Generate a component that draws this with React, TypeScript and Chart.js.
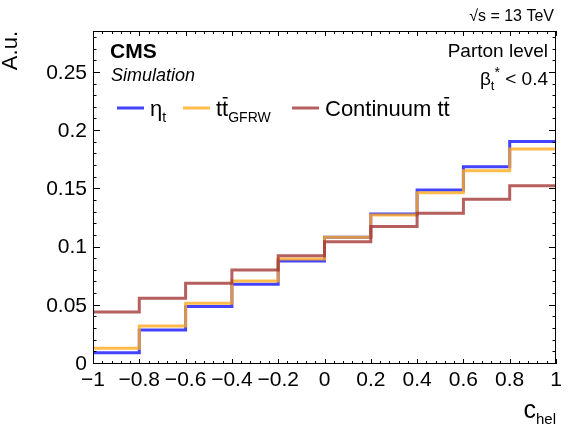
import { useEffect, useRef } from 'react';
import { Chart, registerables } from 'chart.js';

Chart.register(...registerables);

// ---- data ----
const binEdges = [-1, -0.8, -0.6, -0.4, -0.2, 0, 0.2, 0.4, 0.6, 0.8, 1];
const etaT = [0.0097, 0.0292, 0.0493, 0.0685, 0.0885, 0.1088, 0.1289, 0.1495, 0.1695, 0.191];
const ttGFRW = [0.0135, 0.0327, 0.0521, 0.0713, 0.0902, 0.1088, 0.128, 0.147, 0.166, 0.1847];
const continuum = [0.0447, 0.0564, 0.0693, 0.0808, 0.093, 0.105, 0.118, 0.1295, 0.1415, 0.153];
const xTickValues = [-1, -0.8, -0.6, -0.4, -0.2, 0, 0.2, 0.4, 0.6, 0.8, 1];
const yTickValues = [0, 0.05, 0.1, 0.15, 0.2, 0.25];

const FONT = "'Liberation Sans', Arial, Helvetica, sans-serif";
const BLUE = 'rgba(20,20,255,0.8)';
const ORANGE = 'rgba(255,170,30,0.8)';
const RED = 'rgba(160,50,50,0.78)';

function stepPoints(values: number[]) {
  const pts = values.map((v, i) => ({ x: binEdges[i], y: v }));
  pts.push({ x: binEdges[binEdges.length - 1], y: values[values.length - 1] });
  return pts;
}

type Seg = { t: string; size: number; dy?: number; weight?: string; style?: string; bar?: boolean };

function segFont(s: Seg) {
  return `${s.style || 'normal'} ${s.weight || 'normal'} ${s.size}px ${FONT}`;
}

function drawRich(ctx: CanvasRenderingContext2D, segs: Seg[], x: number, y: number, align: 'left' | 'right') {
  let total = 0;
  for (const s of segs) {
    ctx.font = segFont(s);
    total += ctx.measureText(s.t).width;
  }
  let cx = align === 'right' ? x - total : x;
  ctx.textAlign = 'left';
  ctx.textBaseline = 'alphabetic';
  for (const s of segs) {
    ctx.font = segFont(s);
    const w = ctx.measureText(s.t).width;
    ctx.fillText(s.t, cx, y + (s.dy || 0));
    if (s.bar) {
      ctx.save();
      ctx.lineWidth = Math.max(1, s.size * 0.07);
      ctx.strokeStyle = ctx.fillStyle as string;
      ctx.beginPath();
      const by = y + (s.dy || 0) - s.size * 0.83;
      ctx.moveTo(cx + w * 0.1, by);
      ctx.lineTo(cx + w * 0.9, by);
      ctx.stroke();
      ctx.restore();
    }
    cx += w;
  }
  return total;
}

const decorPlugin = {
  id: 'decor',
  afterDraw(chart: any) {
    const { ctx, chartArea } = chart;
    const xs = chart.scales.x;
    const ys = chart.scales.y;
    const { left, right, top, bottom } = chartArea;
    ctx.save();
    ctx.strokeStyle = '#000';
    ctx.fillStyle = '#000';
    ctx.lineWidth = 1;
    // frame
    ctx.strokeRect(Math.round(left) + 0.5, Math.round(top) + 0.5, Math.round(right - left) - 1, Math.round(bottom - top) - 1);
    // x ticks
    ctx.beginPath();
    for (let i = 0; i <= 50; i++) {
      const v = -1 + i * 0.04;
      const px = Math.round(xs.getPixelForValue(v)) + 0.5;
      const len = i % 5 === 0 ? 5 : 3;
      ctx.moveTo(px, bottom);
      ctx.lineTo(px, bottom - len);
      ctx.moveTo(px, top);
      ctx.lineTo(px, top + len);
    }
    // y ticks
    for (let i = 0; i <= 28; i++) {
      const v = i * 0.01;
      const py = Math.round(ys.getPixelForValue(v)) - 0.5;
      const len = i % 5 === 0 ? 7 : 3.5;
      ctx.moveTo(left, py);
      ctx.lineTo(left + len, py);
      ctx.moveTo(right, py);
      ctx.lineTo(right - len, py);
    }
    ctx.stroke();

    // axis titles
    ctx.save();
    ctx.translate(17, top);
    ctx.rotate(-Math.PI / 2);
    ctx.font = `22px ${FONT}`;
    ctx.textAlign = 'right';
    ctx.textBaseline = 'alphabetic';
    ctx.fillText('A.u.', 0, 0);
    ctx.restore();

    drawRich(ctx, [
      { t: 'c', size: 25 },
      { t: 'hel', size: 15, dy: 6 },
    ], right, 418, 'right');

    // top-right energy label
    drawRich(ctx, [{ t: '\u221As = 13 TeV', size: 16 }], right - 2, 21, 'right');

    // CMS labels
    drawRich(ctx, [{ t: 'CMS', size: 21, weight: 'bold' }], left + 17, 58, 'left');
    drawRich(ctx, [{ t: 'Simulation', size: 18, style: 'italic' }], left + 18, 81, 'left');

    // selection labels
    drawRich(ctx, [{ t: 'Parton level', size: 19 }], right - 8, 57, 'right');
    drawRich(ctx, [
      { t: '\u03B2', size: 19 },
      { t: 't', size: 13, dy: 5 },
      { t: '*', size: 14, dy: -8 },
      { t: ' < 0.4', size: 19 },
    ], right - 8, 85, 'right');

    // legend
    const ly = 108;
    const items: { color: string; x0: number; segs: Seg[] }[] = [
      { color: BLUE, x0: 117, segs: [{ t: '\u03B7', size: 22 }, { t: 't', size: 14, dy: 6 }] },
      { color: ORANGE, x0: 183, segs: [{ t: 't', size: 22 }, { t: 't', size: 22, bar: true }, { t: 'GFRW', size: 14, dy: 6 }] },
      { color: RED, x0: 292, segs: [{ t: 'Continuum t', size: 22 }, { t: 't', size: 22, bar: true }] },
    ];
    for (const it of items) {
      ctx.save();
      ctx.strokeStyle = it.color;
      ctx.lineWidth = 3;
      ctx.beginPath();
      ctx.moveTo(it.x0, ly);
      ctx.lineTo(it.x0 + 27, ly);
      ctx.stroke();
      ctx.restore();
      ctx.fillStyle = '#000';
      drawRich(ctx, it.segs, it.x0 + 33, ly + 8, 'left');
    }
    ctx.restore();
  },
};

function fmtX(v: number) {
  const r = Math.round(v * 10) / 10;
  if (Math.abs(r) < 1e-9) return '0';
  return r < 0 ? '\u2212' + String(Math.abs(r)) : String(r);
}

function fmtY(v: number) {
  const r = Math.round(v * 100) / 100;
  return String(r);
}

export default function App() {
  const ref = useRef<HTMLCanvasElement | null>(null);
  useEffect(() => {
    if (!ref.current) return;
    const chart = new Chart(ref.current, {
      type: 'line',
      data: {
        datasets: [
          { label: '\u03B7t', data: stepPoints(etaT), borderColor: BLUE, borderWidth: 3, stepped: 'before', pointRadius: 0, fill: false, order: 3 },
          { label: 'ttGFRW', data: stepPoints(ttGFRW), borderColor: ORANGE, borderWidth: 3, stepped: 'before', pointRadius: 0, fill: false, order: 2 },
          { label: 'Continuum tt', data: stepPoints(continuum), borderColor: RED, borderWidth: 3, stepped: 'before', pointRadius: 0, fill: false, order: 1 },
        ],
      },
      options: {
        animation: false,
        responsive: false,
        devicePixelRatio: 1,
        layout: { padding: { top: 31, right: 24, left: 0, bottom: 0 } },
        plugins: { legend: { display: false }, tooltip: { enabled: false } },
        scales: {
          x: {
            type: 'linear',
            min: -1,
            max: 1,
            grid: { display: false, drawTicks: false },
            border: { display: false },
            afterBuildTicks: (s: any) => { s.ticks = xTickValues.map((v) => ({ value: v })); },
            afterFit: (s: any) => { s.height = 71; },
            ticks: {
              autoSkip: false,
              maxRotation: 0,
              padding: 4,
              color: '#000',
              font: { family: FONT, size: 21 },
              callback: (v: any) => fmtX(Number(v)),
            },
          },
          y: {
            type: 'linear',
            min: 0,
            max: 0.286,
            grid: { display: false, drawTicks: false },
            border: { display: false },
            afterBuildTicks: (s: any) => { s.ticks = yTickValues.map((v) => ({ value: v })); },
            afterFit: (s: any) => { s.width = 93; },
            ticks: {
              autoSkip: false,
              padding: 6,
              color: '#000',
              font: { family: FONT, size: 21 },
              callback: (v: any) => fmtY(Number(v)),
            },
          },
        },
      } as any,
      plugins: [decorPlugin],
    });
    return () => chart.destroy();
  }, []);
  return (
    <div style={{ position: 'absolute', left: 0, top: 0, width: 580, height: 435, background: '#fff' }}>
      <canvas ref={ref} width={580} height={435} style={{ display: 'block', width: 580, height: 435 }} />
    </div>
  );
}
